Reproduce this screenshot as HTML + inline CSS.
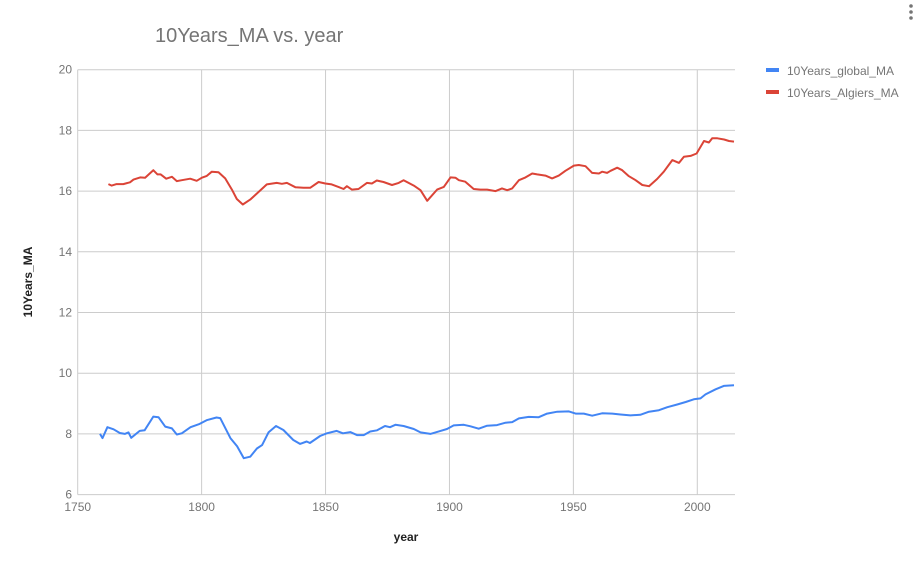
<!DOCTYPE html>
<html><head><meta charset="utf-8"><style>
body{margin:0;background:#fff;width:921px;height:567px;overflow:hidden;font-family:"Liberation Sans",Arial,sans-serif}
svg text{font-family:"Liberation Sans",Arial,sans-serif}
</style></head><body>
<svg id="chart" width="921" height="567" viewBox="0 0 921 567" xmlns="http://www.w3.org/2000/svg">
<text x="155" y="42" font-size="20" fill="#757575">10Years_MA vs. year</text>
<g id="grid"></g>
<g id="series"></g>
<text transform="translate(32,282) rotate(-90)" text-anchor="middle" font-size="12" font-weight="bold" fill="#222">10Years_MA</text>
<text x="406" y="541" text-anchor="middle" font-size="12" font-weight="bold" fill="#222">year</text>
<g>
<g><rect x="766" y="68" width="13" height="4" fill="#4285f4"/><text x="787" y="75" font-size="12" fill="#757575">10Years_global_MA</text></g>
<g><rect x="766" y="90" width="13" height="4" fill="#db4437"/><text x="787" y="97" font-size="12" fill="#757575">10Years_Algiers_MA</text></g>
</g>
<g fill="#757575"><circle cx="911" cy="6" r="1.8"/><circle cx="911" cy="12" r="1.8"/><circle cx="911" cy="18" r="1.8"/></g>
</svg>
<script>
const xTicks=[1750,1800,1850,1900,1950,2000];
const yTicks=[6,8,10,12,14,16,18,20];
const globalYears=[1759,1760,1762,1764.5,1767,1769,1770.5,1771.6,1775,1777,1780.5,1782.6,1785.3,1788,1790,1792,1795.5,1798.9,1802,1806,1807.5,1811.6,1814.3,1817,1819.6,1822.3,1824.4,1827,1830,1833,1837,1839.7,1842.4,1843.7,1847.8,1850.5,1854.5,1857,1860,1862.7,1865.4,1868,1870.8,1874,1876,1878.2,1881.5,1885.6,1888.3,1892.3,1896.4,1899,1901.7,1905.8,1908.5,1911.8,1915.2,1919.2,1922.6,1925.3,1928,1932,1936,1939.4,1943.5,1948.2,1950.9,1954.2,1957.6,1961.6,1965.7,1969,1973,1977,1980.5,1984.5,1987.9,1991.9,1995.3,1998.6,2001.3,2003.3,2007.4,2010.7,2014.8];
const globalValues=[8.0,7.86,8.22,8.15,8.03,8.0,8.05,7.87,8.1,8.12,8.57,8.55,8.24,8.18,7.98,8.02,8.22,8.32,8.45,8.54,8.52,7.86,7.59,7.2,7.25,7.52,7.63,8.05,8.26,8.13,7.8,7.67,7.75,7.7,7.93,8.02,8.1,8.02,8.06,7.96,7.96,8.08,8.12,8.26,8.22,8.3,8.26,8.16,8.05,8.0,8.1,8.16,8.28,8.3,8.25,8.17,8.27,8.29,8.37,8.39,8.51,8.56,8.55,8.67,8.73,8.74,8.67,8.67,8.6,8.68,8.67,8.64,8.61,8.63,8.73,8.78,8.88,8.97,9.05,9.14,9.17,9.3,9.47,9.58,9.6];
const algiersYears=[1762.4,1763.7,1765.7,1768.4,1771.1,1772.5,1775.2,1777.2,1780.5,1782.2,1783.5,1785.7,1788,1790,1792,1795.4,1798,1800.1,1802.1,1804.1,1806.8,1809.5,1812.2,1814.2,1816.6,1819.6,1822.3,1826.3,1830.3,1832.4,1834.4,1837.8,1841.1,1843.8,1847.2,1849.9,1852.5,1855.2,1857.3,1858.6,1860.6,1863.3,1866.7,1868.7,1870.7,1873.4,1876.8,1879.5,1881.5,1885.6,1888.3,1891,1895,1897.7,1900.4,1902.4,1903.8,1906.4,1909.8,1912.5,1915.2,1918.6,1921.2,1923.3,1925.3,1928,1930.7,1933.4,1935.4,1938.7,1941.4,1944.1,1946.8,1950.2,1952.2,1954.9,1957.6,1960.3,1961.6,1963.6,1965,1967.7,1969.7,1972.4,1975.1,1977.8,1980.5,1983.8,1986.5,1989.9,1992.6,1994.6,1997.3,1999.7,2002.7,2004.7,2006,2008.1,2010.8,2012.8,2014.8];
const algiersValues=[16.23,16.18,16.23,16.23,16.29,16.38,16.45,16.44,16.69,16.55,16.55,16.41,16.47,16.33,16.36,16.41,16.34,16.44,16.5,16.64,16.62,16.42,16.05,15.74,15.56,15.72,15.92,16.22,16.27,16.24,16.27,16.13,16.11,16.11,16.3,16.25,16.22,16.14,16.07,16.16,16.05,16.07,16.27,16.25,16.35,16.3,16.2,16.27,16.36,16.18,16.03,15.68,16.05,16.14,16.45,16.44,16.36,16.31,16.07,16.05,16.05,16.0,16.09,16.03,16.09,16.36,16.45,16.58,16.55,16.51,16.42,16.51,16.67,16.84,16.86,16.82,16.6,16.58,16.64,16.6,16.67,16.77,16.69,16.49,16.36,16.2,16.16,16.4,16.64,17.02,16.93,17.13,17.16,17.24,17.65,17.6,17.74,17.74,17.7,17.65,17.63];

const NS='http://www.w3.org/2000/svg';
const X0=77.7,X1=735,Y0=494.6,Y1=69.7;
const xS=v=>X0+(v-1750)*(697.3-77.7)/250;
const yS=v=>Y0-(v-6)*(Y0-Y1)/14;
const grid=document.getElementById('grid');
function mk(tag,attrs,parent){const e=document.createElementNS(NS,tag);for(const k in attrs)e.setAttribute(k,attrs[k]);parent.appendChild(e);return e;}
yTicks.forEach(t=>{
  const l=mk('line',{x1:X0,x2:X1,y1:yS(t),y2:yS(t),stroke:'#cccccc','stroke-width':1},grid);
  
  
  const tx=mk('text',{x:72,y:yS(t)+4,'text-anchor':'end','font-size':12,fill:'#757575'},grid);
  tx.textContent=t;
  
  
});
xTicks.forEach(t=>{
  const l=mk('line',{x1:xS(t),x2:xS(t),y1:Y1,y2:Y0,stroke:'#cccccc','stroke-width':1},grid);
  
  
  const tx=mk('text',{x:xS(t),y:511,'text-anchor':'middle','font-size':12,fill:'#757575'},grid);
  tx.textContent=t;
  
  
});
const ser=document.getElementById('series');
function line(xs,ys,color,name){
  const d=xs.map((x,i)=>(i?'L':'M')+xS(x).toFixed(1)+','+yS(ys[i]).toFixed(1)).join('');
  const p=mk('path',{d:d,fill:'none',stroke:color,'stroke-width':2,'stroke-linejoin':'round'},ser);
  
  
}
line(algiersYears,algiersValues,'#db4437','algiers-line');
line(globalYears,globalValues,'#4285f4','global-line');
</script>
</body></html>
